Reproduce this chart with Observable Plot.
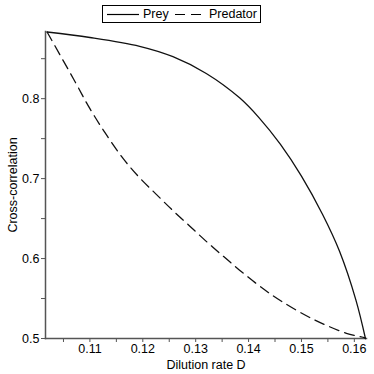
<!DOCTYPE html>
<html>
<head>
<meta charset="utf-8">
<script src="https://cdn.jsdelivr.net/npm/d3@7"></script>
<script src="https://cdn.jsdelivr.net/npm/@observablehq/plot@0.6"></script>
<style>
  html, body { margin: 0; padding: 0; background: #fff; }
  body { width: 374px; height: 374px; overflow: hidden; font-family: "Liberation Sans", Arial, sans-serif; }
  #legend { position: relative; height: 26px; }
  #legend .box { position: absolute; left: 102px; top: 5px; width: 157px; height: 16px; border: 1px solid #000;
    font-size: 12.5px; line-height: 16px; color: #000; white-space: nowrap; }
  #legend .item { position: absolute; top: 0; }
  #legend svg { position: absolute; top: 0; }
</style>
</head>
<body>
<div id="legend"></div>
<div id="chart"></div>
<script>
// Data
const preyD = [0.1019, 0.1100, 0.1194, 0.1257, 0.1320, 0.1383, 0.1420, 0.1460, 0.1500, 0.1540, 0.1572, 0.1603, 0.1621];
const preyR = [0.8834, 0.8765, 0.8655, 0.8525, 0.8315, 0.8010, 0.7760, 0.7430, 0.7030, 0.6550, 0.6090, 0.5480, 0.5000];
const predD = [0.1019, 0.1069, 0.1100, 0.1132, 0.1163, 0.1194, 0.1226, 0.1257, 0.1289, 0.1320, 0.1352, 0.1383, 0.1420, 0.1460, 0.1521, 0.1585, 0.1619, 0.1621];
const predR = [0.8834, 0.8246, 0.7875, 0.7540, 0.7250, 0.7010, 0.6800, 0.6600, 0.6405, 0.6215, 0.6030, 0.5855, 0.5660, 0.5475, 0.5245, 0.5065, 0.5010, 0.5000];
const seriesNames = ["Prey", "Predator"];
const xTicks = [0.11, 0.12, 0.13, 0.14, 0.15, 0.16];
const xMinor = [0.105, 0.115, 0.125, 0.135, 0.145, 0.155];
const yTicks = [0.5, 0.6, 0.7, 0.8];
const yMinor = [0.55, 0.65, 0.75, 0.85];
const xLabel = "Dilution rate D";
const yLabel = "Cross-correlation";

const prey = preyD.map((d, i) => ({D: d, r: preyR[i]}));
const pred = predD.map((d, i) => ({D: d, r: predR[i]}));

// Legend (HTML, above the SVG)
const legend = document.getElementById("legend");
legend.innerHTML = `
  <div class="box">
    <svg width="40" height="16" style="left:3px"><line x1="1" x2="33" y1="8.5" y2="8.5" stroke="#000" stroke-width="1.2"/></svg>
    <span class="item" style="left:40px">${seriesNames[0]}</span>
    <svg width="40" height="16" style="left:72px"><line x1="0" x2="32" y1="8.5" y2="8.5" stroke="#000" stroke-width="1.2" stroke-dasharray="10,6"/></svg>
    <span class="item" style="left:106px">${seriesNames[1]}</span>
  </div>`;

const chart = Plot.plot({
  width: 374,
  height: 348,
  marginTop: 5,
  marginBottom: 36,
  marginLeft: 45,
  marginRight: 8,
  style: { fontFamily: "Liberation Sans, Arial, sans-serif", fontSize: "12.5px", color: "#000", background: "#fff" },
  x: { domain: [0.1016, 0.1623] },
  y: { domain: [0.5, 0.884] },
  marks: [
    Plot.axisX({ ticks: xTicks, tickFormat: d3.format(".2f"), tickSize: 4, tickPadding: 2, stroke: "#555",
                 label: xLabel, labelAnchor: "center", labelArrow: "none", labelOffset: 30, fontSize: 12.5 }),
    Plot.axisX({ ticks: xMinor, tickFormat: () => "", tickSize: 4, stroke: "#555", label: null }),
    Plot.axisY({ ticks: yTicks, tickFormat: d3.format(".1f"), tickSize: 4, tickPadding: 2, stroke: "#555",
                 label: yLabel, labelAnchor: "center", labelArrow: "none", labelOffset: 37, fontSize: 12.5 }),
    Plot.axisY({ ticks: yMinor, tickFormat: () => "", tickSize: 4, stroke: "#555", label: null }),
    Plot.frame({ anchor: "left", stroke: "#555", strokeWidth: 1.5 }),
    Plot.frame({ anchor: "bottom", stroke: "#555", strokeWidth: 1.5 }),
    Plot.line(prey, { x: "D", y: "r", curve: "catmull-rom", stroke: "#111", strokeWidth: 1.3 }),
    Plot.line(pred, { x: "D", y: "r", curve: "catmull-rom", stroke: "#111", strokeWidth: 1.3, strokeDasharray: "10,6" })
  ]
});
document.getElementById("chart").appendChild(chart);
</script>
</body>
</html>
